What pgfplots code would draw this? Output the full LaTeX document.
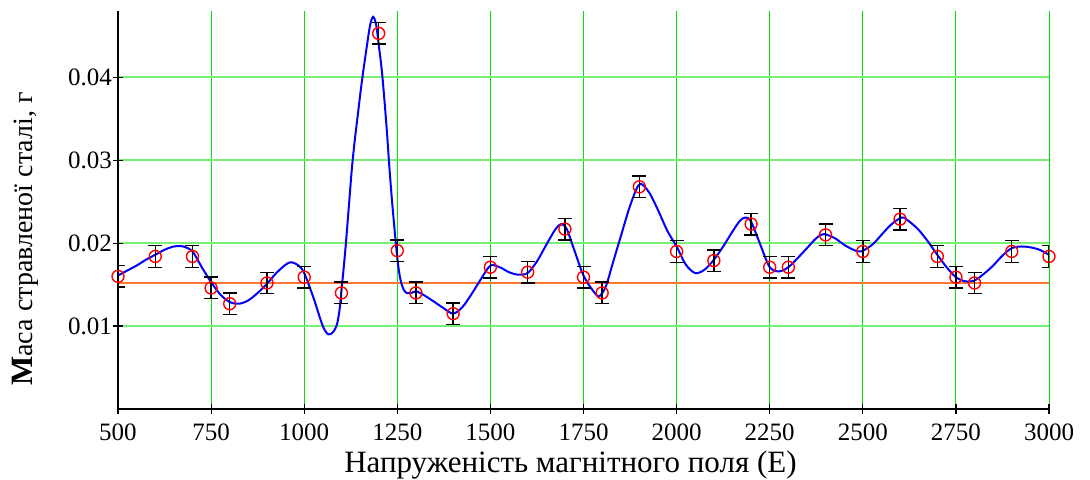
\documentclass[border=0pt]{standalone}
\usepackage{fontspec}
\setmainfont{Liberation Serif}
\usepackage{pgfplots}
\pgfplotsset{compat=1.18}

\definecolor{gridv}{RGB}{0,225,0}
\definecolor{gridh}{RGB}{120,240,120}
\definecolor{avgline}{RGB}{255,120,50}

\begin{document}
\begin{tikzpicture}
\useasboundingbox (-59pt,-35pt) rectangle (486pt,204.5pt);
\begin{axis}[
    scale only axis,
    width=465.5pt,
    height=199pt,
    xmin=500, xmax=3000,
    ymin=0, ymax=0.048,
    axis x line=bottom,
    axis y line=left,
    axis line style={-, line width=0.8pt},
    xtick={500,750,...,3000},
    ytick={0.01,0.02,0.03,0.04},
    tick align=center,
    major tick length=5pt,
    tick style={black, line width=0.6pt},
    xmajorgrids, ymajorgrids,
    x grid style={gridv, line width=0.5pt},
    y grid style={gridh, line width=0.9pt},
    scaled y ticks=false,
    /pgf/number format/assume math mode=true,
    yticklabel style={xshift=3pt, /pgf/number format/.cd, fixed, fixed zerofill, precision=2},
    xticklabel style={yshift=-1.5pt, /pgf/number format/1000 sep={}},
    tick label style={font=\fontsize{12.5}{15}\selectfont},
    xlabel style={font=\fontsize{15.5}{18}\selectfont},
    ylabel style={font=\fontsize{14}{16}\selectfont},
    xlabel={Напруженість магнітного поля (Е)},
    ylabel={{\bfseries\fontsize{15.5}{17}\selectfont М}аса стравленої сталі, г},
    xlabel style={at={(axis description cs:0.486,-0.141)}, anchor=center},
    ylabel style={at={(axis description cs:-0.099,0.427)}, anchor=center},
]
% average level
\addplot[avgline, line width=0.8pt] coordinates {(500,0.0152) (3000,0.0152)};

% fitted curve
\addplot[blue, line width=1pt, smooth] coordinates {
(500,0.0161) (525,0.0167) (550,0.0173) (575,0.0180) (600,0.0186) (625,0.0192)
(650,0.0196) (675,0.0196) (700,0.0190) (725,0.0171) (750,0.0153) (775,0.0138)
(800,0.0129) (825,0.0127) (850,0.0131) (875,0.0140) (900,0.0151) (925,0.0164)
(950,0.0174) (965,0.0177) (985,0.0173) (1000,0.0164) (1025,0.0134) (1050,0.0100)
(1065,0.0090) (1078,0.0093) (1088,0.0102) (1095,0.0120) (1100,0.0143) (1106,0.0170)
(1112,0.0200) (1120,0.0245) (1128,0.0290) (1136,0.0325) (1144,0.0355) (1152,0.0385)
(1160,0.0412) (1169,0.0440) (1177,0.0463) (1185,0.0473) (1193,0.0464) (1200,0.0440)
(1208,0.0410) (1215,0.0375) (1222,0.0335) (1229,0.0290) (1236,0.0250) (1244,0.0210)
(1251,0.0178) (1258,0.0157) (1266,0.0145) (1275,0.0140) (1288,0.0140) (1300,0.0142)
(1315,0.0139) (1330,0.0135) (1350,0.0129) (1373,0.0122) (1400,0.0115) (1425,0.0123)
(1450,0.0139) (1475,0.0157) (1500,0.0173) (1525,0.0171) (1550,0.0165) (1575,0.0162)
(1600,0.0164) (1625,0.0178) (1650,0.0198) (1675,0.0217) (1690,0.0223) (1705,0.0217)
(1725,0.0192) (1750,0.0161) (1775,0.0143) (1792,0.0136) (1810,0.0148) (1830,0.0178)
(1850,0.0208) (1875,0.0245) (1900,0.0271) (1925,0.0262) (1950,0.0240) (1975,0.0215)
(2000,0.0196) (2025,0.0174) (2050,0.0164) (2075,0.0168) (2100,0.0180) (2125,0.0196)
(2150,0.0214) (2170,0.0227) (2185,0.0231) (2200,0.0226) (2225,0.0198) (2250,0.0171)
(2275,0.0166) (2300,0.0171) (2325,0.0182) (2350,0.0194) (2375,0.0206) (2395,0.0211)
(2425,0.0206) (2450,0.0198) (2475,0.0192) (2495,0.0190) (2525,0.0198) (2550,0.0210)
(2575,0.0222) (2605,0.0231) (2625,0.0226) (2650,0.0216) (2675,0.0202) (2700,0.0186)
(2725,0.0171) (2750,0.0159) (2775,0.0154) (2800,0.0155) (2825,0.0163) (2850,0.0173)
(2875,0.0185) (2900,0.0194) (2925,0.0196) (2950,0.0195) (2975,0.0192) (3000,0.0186)
};

% measurements
\addplot[red, only marks, mark=o, mark size=3pt, mark options={line width=0.7pt},
    error bars/.cd, y dir=both, y explicit,
    error bar style={black, line width=0.7pt},
    error mark options={rotate=90, mark size=3.5pt, black, line width=0.7pt}]
coordinates {
(500,0.0160) +- (0,0.0013)
(600,0.0184) +- (0,0.0013)
(700,0.0184) +- (0,0.0013)
(750,0.0146) +- (0,0.0013)
(800,0.0127) +- (0,0.0013)
(900,0.0152) +- (0,0.0013)
(1000,0.0159) +- (0,0.0013)
(1100,0.0140) +- (0,0.0013)
(1200,0.0453) +- (0,0.0013)
(1250,0.0191) +- (0,0.0013)
(1300,0.0140) +- (0,0.0013)
(1400,0.0115) +- (0,0.0013)
(1500,0.0171) +- (0,0.0013)
(1600,0.0165) +- (0,0.0013)
(1700,0.0217) +- (0,0.0013)
(1750,0.0159) +- (0,0.0013)
(1800,0.0140) +- (0,0.0013)
(1900,0.0268) +- (0,0.0013)
(2000,0.0190) +- (0,0.0013)
(2100,0.0179) +- (0,0.0013)
(2200,0.0223) +- (0,0.0013)
(2250,0.0171) +- (0,0.0013)
(2300,0.0171) +- (0,0.0013)
(2400,0.0210) +- (0,0.0013)
(2500,0.0190) +- (0,0.0013)
(2600,0.0229) +- (0,0.0013)
(2700,0.0184) +- (0,0.0013)
(2750,0.0159) +- (0,0.0013)
(2800,0.0152) +- (0,0.0013)
(2900,0.0190) +- (0,0.0013)
(3000,0.0184) +- (0,0.0013)
};
\end{axis}
\end{tikzpicture}
\end{document}
